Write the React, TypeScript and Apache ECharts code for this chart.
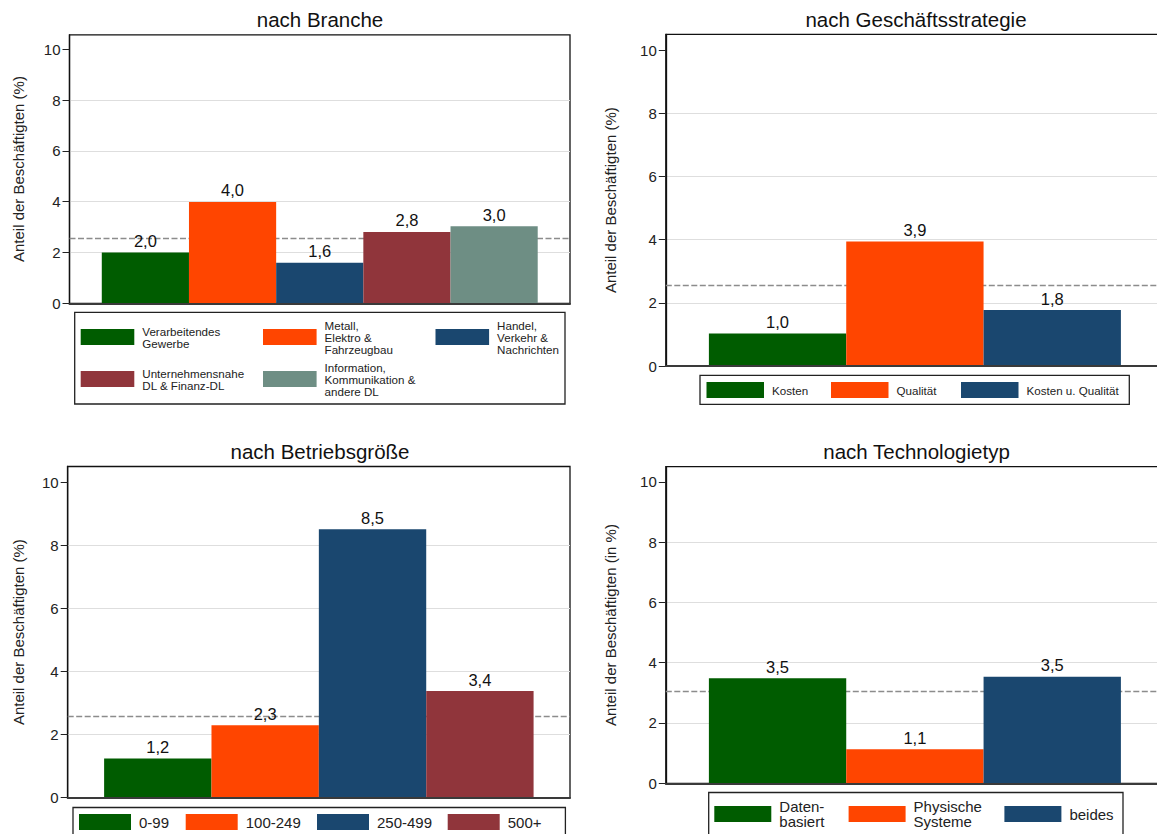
import React, { useEffect, useRef } from 'react';
import * as echarts from 'echarts';

const FONT = '"Liberation Sans", Arial, Helvetica, sans-serif';

// ---- data ----
const panelTitles = ['nach Branche', 'nach Geschäftsstrategie', 'nach Betriebsgröße', 'nach Technologietyp'];
const yAxisTitles = [
  'Anteil der Beschäftigten (%)',
  'Anteil der Beschäftigten (%)',
  'Anteil der Beschäftigten (%)',
  'Anteil der Beschäftigten (in %)',
];

const brancheNames = [
  'Verarbeitendes\nGewerbe',
  'Metall,\nElektro &\nFahrzeugbau',
  'Handel,\nVerkehr &\nNachrichten',
  'Unternehmensnahe\nDL & Finanz-DL',
  'Information,\nKommunikation &\nandere DL',
];
const brancheValues = [2.0, 3.99, 1.6, 2.81, 3.03];

const strategieNames = ['Kosten', 'Qualität', 'Kosten u. Qualität'];
const strategieValues = [1.03, 3.94, 1.77];

const groesseNames = ['0-99', '100-249', '250-499', '500+'];
const groesseValues = [1.24, 2.3, 8.51, 3.38];

const techNames = ['Daten-\nbasiert', 'Physische\nSysteme', 'beides'];
const techValues = [3.48, 1.13, 3.53];

const referenceValues = [2.57, 2.56, 2.58, 3.04];
const yTickValues = [0, 2, 4, 6, 8, 10];

const GREEN = '#005c00';
const ORANGE = '#ff4500';
const NAVY = '#1a476f';
const MAROON = '#90353b';
const TEAL = '#6e8e84';

const brancheColors = [GREEN, ORANGE, NAVY, MAROON, TEAL];
const strategieColors = [GREEN, ORANGE, NAVY];
const groesseColors = [GREEN, ORANGE, NAVY, MAROON];
const techColors = [GREEN, ORANGE, NAVY];

// ---- layout (pixels) ----
const W = 1157;
const H = 834;

const panels = [
  {
    names: brancheNames, values: brancheValues, colors: brancheColors,
    grid: { left: 69.5, right: 587, top: 34.8, bottom: 530.7 }, yMax: 10.57, gap: '12.9%', nameGap: 44,
    title: { x: 320, y: 9 },
    legend: { font: 11.6, lh: 12, w: 53.6, h: 16, pos: [[80.7, 337], [263, 337], [435.5, 337], [80.7, 379], [263, 379]] },
    box: [74.7, 312.3, 490.3, 91.7],
  },
  {
    names: strategieNames, values: strategieValues, colors: strategieColors,
    grid: { left: 665.8, right: -7, top: 34.3, bottom: 468 }, yMax: 10.5, gap: '17.3%', nameGap: 48,
    title: { x: 916, y: 8.5 },
    legend: { font: 11.6, lh: 12, w: 57.5, h: 16, pos: [[706.5, 390], [831, 390], [961, 390]] },
    box: [700, 375.3, 429.3, 29],
  },
  {
    names: groesseNames, values: groesseValues, colors: groesseColors,
    grid: { left: 67.7, right: 587, top: 466.5, bottom: 36.3 }, yMax: 10.5, gap: '14.5%', nameGap: 42,
    title: { x: 320, y: 441 },
    legend: { font: 15, lh: 15, w: 52, h: 16, pos: [[79, 822], [185.7, 822], [317, 822], [447.7, 822]] },
    box: [73, 807.5, 492.4, 60],
  },
  {
    names: techNames, values: techValues, colors: techColors,
    grid: { left: 665.8, right: -7, top: 466.7, bottom: 50.7 }, yMax: 10.5, gap: '17.3%', nameGap: 48,
    title: { x: 916.5, y: 441 },
    legend: { font: 15, lh: 15, w: 57, h: 16, pos: [[714.3, 814], [848.6, 814], [1004.4, 814]] },
    box: [708.7, 792.5, 414.3, 70],
  },
];

const fmt = (v: number) => v.toFixed(1).replace('.', ',');

function buildOption() {
  const grid: any[] = [];
  const xAxis: any[] = [];
  const yAxis: any[] = [];
  const series: any[] = [];
  const title: any[] = [];
  const legend: any[] = [];
  const graphic: any[] = [];

  panels.forEach((p, i) => {
    grid.push({
      ...p.grid,
      show: true,
      borderColor: '#111',
      borderWidth: 1.3,
      backgroundColor: 'transparent',
      containLabel: false,
      outerBoundsMode: 'none',
    });
    xAxis.push({
      gridIndex: i,
      type: 'category',
      data: [''],
      z: 3,
      axisLine: { show: true, lineStyle: { color: '#3a3a3a', width: 2 } },
      axisTick: { show: false },
      axisLabel: { show: false },
      splitLine: { show: false },
    });
    yAxis.push({
      gridIndex: i,
      type: 'value',
      min: 0,
      max: p.yMax,
      interval: 2,
      name: yAxisTitles[i],
      nameLocation: 'middle',
      nameRotate: 90,
      nameGap: p.nameGap,
      nameTextStyle: { fontSize: 15, color: '#222', fontFamily: FONT },
      axisLine: { show: true, lineStyle: { color: '#111', width: 1.3 } },
      axisTick: { show: true, length: 7, lineStyle: { color: '#222', width: 1 }, customValues: yTickValues },
      axisLabel: { fontSize: 15, color: '#222', margin: 9, fontFamily: FONT, customValues: yTickValues },
      splitLine: {
        show: true,
        showMinLine: false,
        lineStyle: {
          color: ['#dedede', '#dedede', '#dedede', '#dedede', 'rgba(0,0,0,0)', 'rgba(0,0,0,0)'],
          width: 1.2,
        },
      },
    });
    p.names.forEach((name, j) => {
      const s: any = {
        type: 'bar',
        name,
        xAxisIndex: i,
        yAxisIndex: i,
        data: [p.values[j]],
        barGap: '0%',
        barCategoryGap: p.gap,
        z: 2,
        itemStyle: { color: p.colors[j] },
        label: {
          show: true,
          position: 'top',
          distance: 3,
          fontSize: 16.5,
          color: '#111',
          fontFamily: FONT,
          formatter: (prm: any) => fmt(prm.value as number),
        },
      };
      if (j === 0) {
        s.markLine = {
          silent: true,
          symbol: 'none',
          z: 1,
          label: { show: false },
          lineStyle: { type: [6, 2.5], color: '#8c8c8c', width: 1.3 },
          data: [{ yAxis: referenceValues[i] }],
        };
      }
      series.push(s);

      const lg = p.legend;
      const lines = name.split('\n').length;
      const textH = lines * lg.lh;
      const [lx, cy] = lg.pos[j];
      legend.push({
        show: true,
        data: [{ name, icon: 'rect' }],
        left: lx,
        top: cy - Math.max(lg.h, textH) / 2,
        orient: 'horizontal',
        padding: 0,
        itemGap: 0,
        itemWidth: lg.w,
        itemHeight: lg.h,
        selectedMode: false,
        textStyle: {
          fontSize: lg.font,
          lineHeight: lg.lh,
          color: '#222',
          fontFamily: FONT,
          padding: [0, 0, 0, 3],
        },
      });
    });
    title.push({
      text: panelTitles[i],
      left: p.title.x,
      top: p.title.y,
      textAlign: 'center',
      padding: 0,
      textStyle: { fontSize: 20.5, fontWeight: 'normal', color: '#111', fontFamily: FONT },
    });
    graphic.push({
      type: 'rect',
      silent: true,
      z: -1,
      shape: { x: p.box[0], y: p.box[1], width: p.box[2], height: p.box[3] },
      style: { fill: 'none', stroke: '#222', lineWidth: 1.3 },
    });
  });

  return {
    animation: false,
    backgroundColor: '#ffffff',
    textStyle: { fontFamily: FONT },
    title,
    grid,
    xAxis,
    yAxis,
    series,
    legend,
    graphic,
  };
}

export default function App() {
  const ref = useRef<HTMLDivElement>(null);
  useEffect(() => {
    if (!ref.current) return;
    const chart = echarts.init(ref.current, undefined, { renderer: 'svg', width: W, height: H });
    chart.setOption(buildOption() as any);
    return () => chart.dispose();
  }, []);
  return (
    <div
      ref={ref}
      style={{ position: 'absolute', left: 0, top: 0, width: W, height: H, background: '#fff', overflow: 'hidden' }}
    />
  );
}
